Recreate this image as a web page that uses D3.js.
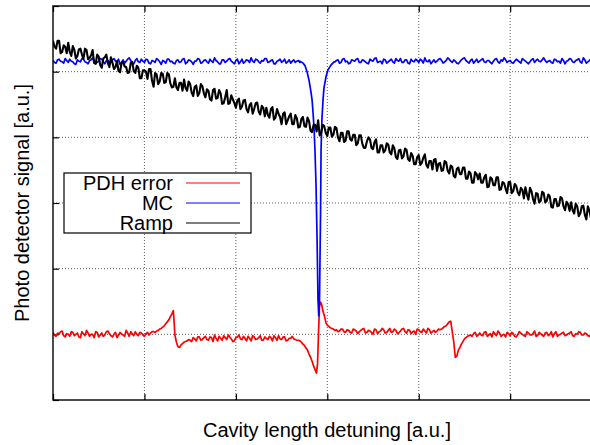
<!DOCTYPE html>
<html>
<head>
<meta charset="utf-8">
<script src="https://cdn.jsdelivr.net/npm/d3@7"></script>
<style>
  body { margin: 0; background: #fff; }
  text { font-family: "Liberation Sans", Arial, sans-serif; }
</style>
</head>
<body>
<svg id="chart" width="590" height="445"></svg>
<script>
// cavity scan: main samples at even detuning (a.u.), mid samples at odd detuning
const sampleStep = 2;

const xTicks = [0, 60, 120, 180, 240, 300, 360];
const yTicks = [0, 100, 200, 300, 400, 500, 600];

const pdhError = [
  103, 97, 101, 105, 96, 100, 104, 98, 102, 95,
  101, 106, 97, 100, 104, 96, 102, 99, 105, 98,
  100, 95, 103, 99, 106, 97, 101, 104, 98, 102,
  97, 103, 102, 104, 105, 108, 111, 116, 122, 131,
  99, 81, 84, 88, 90, 91, 95, 90, 96, 92,
  97, 91, 95, 99, 90, 94, 98, 92, 96, 89,
  95, 99, 92, 94, 97, 90, 96, 93, 98, 91,
  94, 97, 90, 95, 98, 92, 96, 91, 94, 93,
  91, 90, 85, 79, 70, 59, 45, 90, 146, 130,
  114, 110, 108, 107, 105, 108, 103, 106, 102, 107,
  101, 106, 109, 103, 105, 100, 107, 104, 109, 102,
  106, 103, 108, 101, 105, 109, 102, 106, 104, 100,
  107, 103, 105, 109, 102, 106, 105, 107, 110, 113,
  119, 104, 65, 76, 85, 93, 97, 99, 101, 97,
  102, 98, 104, 99, 96, 101, 105, 97, 100, 103,
  98, 101, 96, 104, 100, 97, 102, 99, 105, 98,
  101, 97, 103, 100, 96, 104, 99, 102, 98, 101,
  104, 97, 100, 103, 99, 101, 97, 102
];
const pdhErrorMid = [
  99, 102, 104, 98, 101, 97, 103, 100, 96, 104,
  98, 102, 100, 95, 103, 99, 97, 104, 101, 96,
  103, 99, 100, 97, 102, 104, 98, 100, 103, 99,
  101, 99, 104, 103, 106, 109, 113, 119, 127, 136,
  88, 80, 86, 89, 92, 89, 93, 96, 91, 95,
  92, 96, 89, 94, 97, 91, 95, 99, 93, 90,
  96, 93, 97, 90, 94, 98, 92, 95, 91, 96,
  92, 95, 98, 91, 93, 96, 90, 94, 97, 92,
  91, 88, 83, 76, 65, 52, 45, 146, 137, 120,
  112, 109, 106, 104, 108, 104, 107, 103, 108, 105,
  104, 108, 102, 106, 103, 108, 101, 105, 107, 103,
  109, 104, 106, 102, 108, 104, 107, 101, 105, 108,
  104, 108, 102, 107, 104, 103, 108, 108, 112, 116,
  120, 88, 67, 80, 89, 95, 98, 97, 103, 99,
  99, 103, 97, 101, 104, 98, 102, 99, 96, 101,
  103, 97, 100, 102, 98, 104, 99, 101, 97, 103,
  99, 102, 98, 104, 101, 97, 100, 103, 99, 102,
  98, 101, 104, 99, 102, 98, 100
];
// finer samples across the carrier zero crossing [detuning, signal]
const pdhEdgeFine = [
  [170.0, 59], [171.3, 50], [172.9, 41], [173.6, 55], [174.2, 100], [174.9, 143],
  [175.6, 149], [176.2, 146], [177.2, 135], [178.2, 127], [179.2, 117]
];

const mcSignal = [
  517, 513, 519, 515, 520, 514, 516, 512, 518, 515,
  519, 514, 517, 521, 513, 516, 519, 512, 517, 514,
  520, 515, 511, 518, 516, 521, 513, 517, 515, 519,
  514, 518, 512, 516, 520, 515, 517, 513, 519, 516,
  512, 518, 515, 520, 514, 517, 511, 516, 519, 514,
  518, 513, 516, 521, 515, 512, 518, 516, 520, 514,
  517, 512, 519, 515, 517, 521, 514, 518, 513, 516,
  520, 515, 518, 512, 517, 514, 519, 515, 513, 518,
  516, 514, 513, 507, 487, 457, 365, 128, 420, 480,
  497, 510, 514, 517, 513, 519, 515, 512, 518, 516,
  520, 514, 517, 513, 519, 516, 521, 515, 512, 518,
  515, 519, 513, 517, 520, 514, 518, 512, 516, 519,
  514, 517, 521, 515, 512, 518, 516, 520, 513, 517,
  519, 514, 516, 512, 518, 521, 515, 517, 513, 519,
  516, 520, 514, 517, 512, 519, 515, 518, 521, 514,
  517, 513, 519, 515, 520, 516, 512, 518, 514, 519,
  515, 521, 514, 517, 513, 518, 516, 520, 512, 517,
  519, 514, 518, 515, 521, 513, 517, 516
];
const mcSignalMid = [
  514, 518, 516, 513, 517, 519, 515, 511, 516, 520,
  515, 512, 518, 516, 514, 520, 515, 517, 513, 518,
  516, 519, 514, 513, 519, 517, 512, 520, 514, 516,
  519, 513, 517, 514, 518, 511, 516, 519, 515, 513,
  517, 514, 519, 512, 518, 515, 516, 520, 513, 517,
  515, 519, 514, 517, 512, 518, 514, 519, 516, 512,
  519, 515, 513, 518, 514, 516, 519, 515, 517, 520,
  514, 517, 512, 516, 519, 516, 513, 518, 516, 514,
  517, 514, 510, 498, 473, 425, 290, 200, 455, 492,
  507, 512, 515, 518, 514, 520, 516, 513, 517, 519,
  514, 518, 515, 512, 517, 520, 514, 516, 519, 513,
  517, 515, 520, 516, 514, 518, 513, 519, 515, 517,
  519, 513, 516, 518, 515, 514, 519, 517, 515, 521,
  516, 518, 513, 515, 520, 517, 513, 519, 516, 514,
  518, 515, 517, 514, 516, 520, 513, 516, 518, 516,
  514, 516, 517, 513, 518, 514, 515, 520, 517, 516,
  518, 517, 516, 514, 519, 515, 513, 517, 516, 520,
  515, 517, 520, 513, 518, 515, 519
];
// finer samples across the transmission dip [detuning, signal]
const mcDipFine = [
  [162.1, 516], [164.1, 513], [165.4, 509], [166.7, 500], [168.0, 487], [169.3, 469],
  [170.0, 457], [170.6, 439], [171.3, 414], [171.9, 381], [172.6, 327], [173.3, 244],
  [173.9, 152], [174.4, 128], [174.9, 152], [175.2, 213], [175.6, 289], [175.9, 381],
  [176.5, 429], [177.2, 457], [177.8, 475], [179.2, 493], [180.5, 503], [182.4, 510],
  [184.4, 515]
];

const rampSignal = [
  547, 535, 547, 530, 538, 544, 524, 533, 524, 535,
  520, 533, 521, 533, 512, 523, 506, 522, 513, 522,
  504, 516, 499, 515, 507, 499, 515, 498, 506, 490,
  502, 489, 504, 477, 496, 485, 497, 484, 496, 476,
  490, 472, 483, 488, 471, 481, 463, 479, 467, 478,
  461, 471, 456, 474, 460, 467, 452, 472, 452, 458,
  445, 459, 447, 457, 438, 452, 443, 453, 435, 445,
  445, 430, 446, 430, 436, 420, 438, 426, 436, 420,
  429, 416, 431, 416, 425, 408, 419, 426, 407, 417,
  402, 415, 404, 414, 394, 407, 395, 409, 395, 404,
  391, 403, 384, 394, 397, 382, 397, 377, 388, 380,
  389, 374, 383, 367, 381, 371, 381, 364, 372, 359,
  373, 361, 374, 354, 364, 366, 349, 361, 350, 362,
  345, 355, 339, 354, 344, 354, 337, 345, 331, 344,
  345, 331, 343, 325, 337, 327, 339, 321, 330, 315,
  332, 318, 326, 312, 320, 324, 305, 318, 299, 314,
  303, 315, 303, 310, 293, 306, 296, 307, 289, 298,
  301, 284, 295, 284, 296, 275, 288, 279
];
const rampSignalMid = [
  538, 547, 528, 540, 528, 530, 539, 520, 534, 526,
  535, 519, 525, 513, 526, 510, 520, 526, 507, 514,
  507, 501, 514, 508, 498, 513, 501, 509, 490, 502,
  500, 504, 486, 498, 481, 498, 483, 498, 482, 477,
  476, 483, 471, 475, 485, 468, 477, 463, 481, 467,
  473, 458, 472, 459, 472, 451, 461, 451, 464, 452,
  456, 443, 456, 443, 449, 436, 452, 439, 448, 432,
  434, 443, 427, 443, 431, 436, 420, 432, 420, 434,
  415, 428, 417, 430, 410, 419, 409, 403, 419, 407,
  415, 401, 416, 400, 407, 393, 409, 397, 404, 388,
  403, 390, 384, 400, 384, 393, 377, 388, 377, 391,
  377, 388, 370, 380, 368, 383, 367, 376, 359, 370,
  358, 369, 358, 364, 351, 367, 360, 349, 364, 349,
  357, 341, 352, 344, 354, 337, 348, 331, 347, 336,
  331, 339, 324, 339, 327, 339, 320, 332, 322, 332,
  315, 329, 316, 323, 307, 313, 323, 306, 315, 301,
  317, 301, 313, 294, 306, 295, 309, 295, 302, 288,
  289, 299, 280, 295, 282, 295, 277
];

const seriesNames = ["PDH error", "MC", "Ramp"];
const seriesColors = ["#ff0000", "#0000ff", "#000000"];
const traceWidths = [1.7, 1.7, 2.1];

// main + mid samples in detuning order
function interleave(main, mid) {
    var pts = [];
    main.forEach((y, i) => {
        pts.push({ x: i * sampleStep, y: y });
        if (i < mid.length) pts.push({ x: i * sampleStep + sampleStep / 2, y: mid[i] });
    });
    return pts;
}

// swap in the finer samples where the signal moves fast
function withFine(pts, fine) {
    var lo = fine[0][0], hi = fine[fine.length - 1][0];
    var out = pts.filter(p => p.x < lo || p.x > hi);
    fine.forEach(d => out.push({ x: d[0], y: d[1] }));
    return out.sort((a, b) => a.x - b.x);
}

var svg = d3.select("#chart");

var plotLeft = 53, plotTop = 6, plotBottom = 400, plotRight = 601.6;

var xScale = d3.scaleLinear().domain([0, 360]).range([plotLeft, plotRight]);
var yScale = d3.scaleLinear().domain([0, 600]).range([plotBottom, plotTop]);

svg.append("defs").append("clipPath")
    .attr("id", "plotclip")
    .append("rect")
    .attr("x", plotLeft).attr("y", plotTop)
    .attr("width", plotRight - plotLeft).attr("height", plotBottom - plotTop);

// dotted grid
var grid = svg.append("g").attr("stroke", "#333").attr("stroke-width", 0.8).attr("stroke-dasharray", "1,2");
grid.selectAll(".gx")
    .data(xTicks.slice(1, -1))
    .enter().append("line")
    .attr("x1", d => xScale(d)).attr("x2", d => xScale(d))
    .attr("y1", plotTop).attr("y2", plotBottom);
grid.selectAll(".gy")
    .data(yTicks.slice(1, -1))
    .enter().append("line")
    .attr("x1", plotLeft).attr("x2", plotRight)
    .attr("y1", d => yScale(d)).attr("y2", d => yScale(d));

// inward ticks, no labels
function tickAxis(axis, transform) {
    var g = svg.append("g")
        .attr("transform", transform)
        .call(axis.tickFormat("").tickSizeOuter(0));
    g.select(".domain").remove();
    g.selectAll("text").remove();
    g.selectAll("line").attr("stroke", "#000").attr("stroke-width", 1.2);
}
tickAxis(d3.axisBottom(xScale).tickValues(xTicks).tickSizeInner(-6), "translate(0," + plotBottom + ")");
tickAxis(d3.axisTop(xScale).tickValues(xTicks).tickSizeInner(-6), "translate(0," + plotTop + ")");
tickAxis(d3.axisLeft(yScale).tickValues(yTicks).tickSizeInner(-6), "translate(" + plotLeft + ",0)");

var line = d3.line()
    .x(d => xScale(d.x))
    .y(d => yScale(d.y));

var traces = [
    withFine(interleave(pdhError, pdhErrorMid), pdhEdgeFine),
    withFine(interleave(mcSignal, mcSignalMid), mcDipFine),
    interleave(rampSignal, rampSignalMid)
];

var plot = svg.append("g").attr("clip-path", "url(#plotclip)");
for (var i = 0; i < traces.length; i++) {
    plot.append("path")
        .datum(traces[i])
        .attr("fill", "none")
        .attr("stroke", seriesColors[i])
        .attr("stroke-width", traceWidths[i])
        .attr("stroke-linejoin", "round")
        .attr("d", line);
}

// border
svg.append("rect")
    .attr("x", plotLeft).attr("y", plotTop)
    .attr("width", plotRight - plotLeft).attr("height", plotBottom - plotTop)
    .attr("fill", "none")
    .attr("stroke", "#000")
    .attr("stroke-width", 1.4);

// legend
var legend = svg.append("g").attr("transform", "translate(64, 173)");
legend.append("rect")
    .attr("width", 187).attr("height", 60)
    .attr("fill", "#fff")
    .attr("stroke", "#000")
    .attr("stroke-width", 1.2);

var items = legend.selectAll(".legend-item")
    .data(seriesNames)
    .enter().append("g")
    .attr("class", "legend-item")
    .attr("transform", (d, i) => "translate(0," + (10 + i * 20) + ")");

items.append("text")
    .attr("x", 109).attr("y", 7)
    .attr("text-anchor", "end")
    .attr("font-size", 20)
    .text(d => d);

items.append("line")
    .attr("x1", 122).attr("x2", 176)
    .attr("stroke", (d, i) => seriesColors[i])
    .attr("stroke-width", 1.2);

// axis titles
svg.append("text")
    .attr("x", 327).attr("y", 437)
    .attr("text-anchor", "middle")
    .attr("font-size", 20)
    .text("Cavity length detuning [a.u.]");

svg.append("text")
    .attr("transform", "translate(29,203) rotate(-90)")
    .attr("text-anchor", "middle")
    .attr("font-size", 20)
    .text("Photo detector signal [a.u.]");
</script>
</body>
</html>
